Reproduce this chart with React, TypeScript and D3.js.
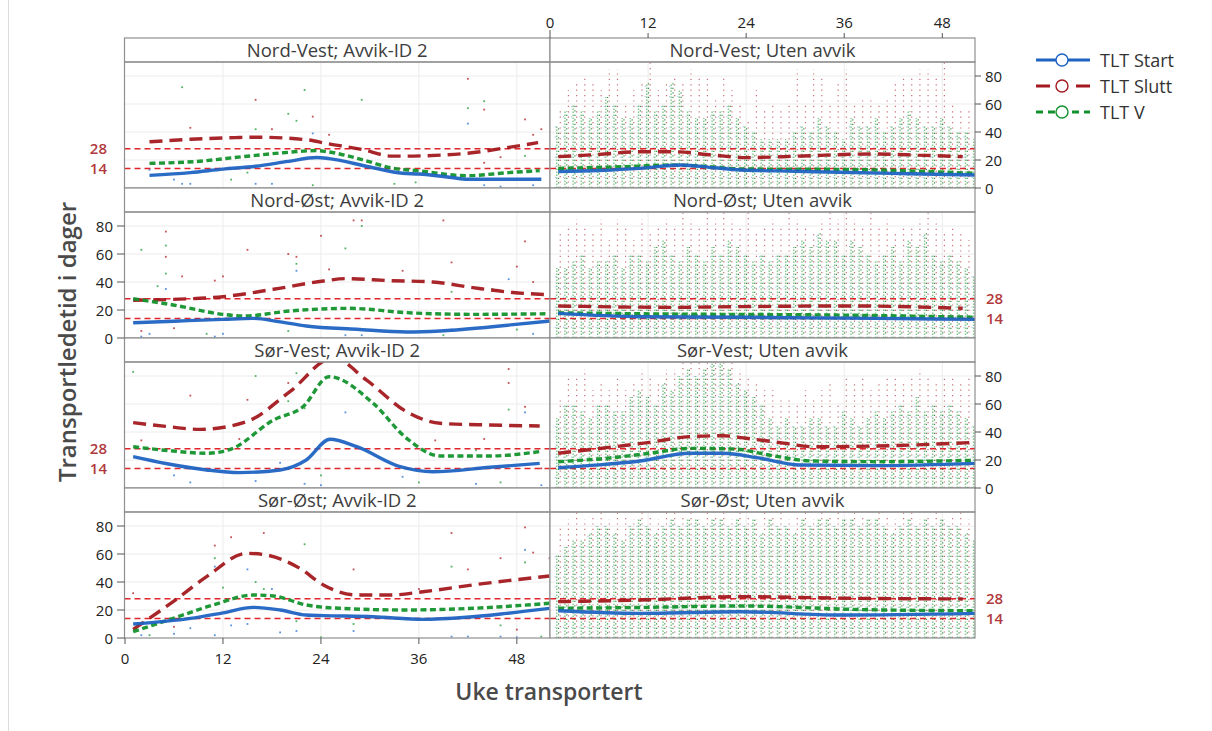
import React from "react";
import * as d3 from "d3";

type Pt = [number, number];

// ---------- categories / labels ----------
const panelTitles: string[][] = [
  ["Nord-Vest; Avvik-ID 2", "Nord-Vest; Uten avvik"],
  ["Nord-Øst; Avvik-ID 2", "Nord-Øst; Uten avvik"],
  ["Sør-Vest; Avvik-ID 2", "Sør-Vest; Uten avvik"],
  ["Sør-Øst; Avvik-ID 2", "Sør-Øst; Uten avvik"],
];
const xTicks = [0, 12, 24, 36, 48];
const yTicks = [0, 20, 40, 60, 80];
const refValues = [14, 28];
const seriesNames = ["TLT Start", "TLT Slutt", "TLT V"];
const weeks = [
  1, 2, 3, 4, 5, 6, 7, 8, 9, 10, 11, 12, 13, 14, 15, 16, 17, 18, 19, 20, 21, 22, 23, 24, 25, 26,
  27, 28, 29, 30, 31, 32, 33, 34, 35, 36, 37, 38, 39, 40, 41, 42, 43, 44, 45, 46, 47, 48, 49, 50,
  51, 52,
];

// ---------- smoothed series (week, days) ----------
const nvAvvikStart: Pt[] = [[3, 9], [8, 11], [12, 13.5], [16, 15.5], [20, 19], [23.5, 21.8], [25, 21], [30, 15], [34, 10.5], [36, 10], [40, 7.5], [42, 6.2], [46, 6.2], [51, 6.2]];
const nvAvvikSlutt: Pt[] = [[3, 33], [8, 34.8], [13.5, 36], [16, 36.3], [22.5, 34.3], [24.5, 32], [29, 27.6], [32.7, 22.8], [34.6, 22.8], [38.7, 23.5], [42, 24.8], [47, 29], [50.6, 32.4]];
const nvAvvikV: Pt[] = [[3, 17.6], [8.4, 18.8], [14.5, 22.4], [19.4, 25.2], [23.5, 26.7], [24.7, 26], [29.2, 20], [32.9, 14], [35.7, 12.4], [41.8, 8.8], [47, 11], [50.8, 12.4]];

const nvUtenStart: Pt[] = [[1, 11.7], [6, 12.5], [11, 14], [16, 16.4], [20, 14.5], [23.3, 12.9], [30, 12], [35.5, 11.2], [44, 10.2], [52, 9.3]];
const nvUtenSlutt: Pt[] = [[1, 22.4], [6, 24], [11, 25.9], [15, 25.9], [20, 23.5], [24, 21.7], [31, 22.9], [39.5, 24.3], [45, 23.5], [50.5, 22.4]];
const nvUtenV: Pt[] = [[1, 14], [8, 15], [15, 16.4], [19, 15.5], [23.3, 13.6], [35.5, 13.3], [45, 12], [52, 10.5]];

const noAvvikStart: Pt[] = [[1, 10.9], [6, 12], [12, 13.3], [15.7, 14], [19, 11.5], [22.2, 8.6], [28.4, 6.2], [34.5, 4.3], [38.6, 5], [44.7, 7.9], [52, 12.1]];
const noAvvikSlutt: Pt[] = [[1, 27], [5.9, 27.6], [12, 29.5], [18.2, 34.8], [24.3, 40.7], [27.1, 42.4], [32.4, 41], [37.7, 40], [42.6, 36], [47.5, 32.5], [51.5, 31]];
const noAvvikV: Pt[] = [[1, 28], [5.9, 23.6], [12, 16.9], [14.5, 15.7], [20.2, 19.3], [27.5, 21.2], [34.5, 18.1], [42.6, 16.9], [51.5, 17.3]];

const noUtenStart: Pt[] = [[1, 17.6], [11, 15.2], [23.3, 14.8], [40, 14], [52, 13.3]];
const noUtenSlutt: Pt[] = [[1, 22.9], [15, 21.9], [23, 22.4], [37, 22.9], [50.5, 21.2]];
const noUtenV: Pt[] = [[1, 18], [15, 17.1], [35, 16.4], [52, 14.8]];

const svAvvikStart: Pt[] = [[1, 22.4], [5, 17.5], [10, 12.9], [14, 11], [19, 12.9], [22.2, 20], [25.1, 34.8], [28.4, 29.5], [33.7, 15.2], [37.7, 11.6], [44.7, 14.8], [50.8, 17.6]];
const svAvvikSlutt: Pt[] = [[1, 46.7], [5, 44], [9.2, 41.9], [14.9, 47.4], [20.2, 68.8], [25.5, 93], [29.6, 77], [34.5, 54.5], [38.6, 46.2], [44.7, 45], [50.8, 44.3]];
const svAvvikV: Pt[] = [[1, 29.5], [5.9, 26.4], [10, 24.8], [12.9, 27.6], [18.2, 48.6], [21.8, 58], [25, 79.5], [30.4, 60.5], [34.5, 35.5], [38.6, 22.9], [44.7, 22.9], [50.8, 26]];

const svUtenStart: Pt[] = [[1, 14.5], [6, 16.5], [11, 19.3], [17.1, 24.8], [21.2, 24.8], [25.3, 21.7], [30.6, 16.4], [40, 16], [52, 17.6]];
const svUtenSlutt: Pt[] = [[1, 24.8], [6.9, 28.8], [12.2, 32.6], [17.1, 36.7], [21.2, 37.3], [24, 35.5], [28.8, 31.9], [32, 29.5], [40, 30], [52, 32.6]];
const svUtenV: Pt[] = [[1, 18.8], [6.9, 21.2], [12.2, 24.8], [17.1, 28.3], [22.4, 27.9], [27.3, 23], [32, 19.3], [40, 18.8], [52, 19.8]];

const soAvvikStart: Pt[] = [[1, 10], [8, 14], [12, 18], [15.7, 21.9], [19, 20], [22.2, 16.4], [24.3, 16], [30.4, 15.2], [36.5, 13.3], [41.8, 14.8], [46.7, 17.6], [52, 21.2]];
const soAvvikSlutt: Pt[] = [[1, 6.2], [5.9, 26], [10, 43.8], [14.9, 60.5], [17.3, 59.3], [21.4, 49.8], [24.3, 37.9], [28.4, 30.7], [32.4, 30.7], [36.5, 33], [42.6, 37.9], [52, 44.3]];
const soAvvikV: Pt[] = [[1, 4.5], [5.9, 14], [10.8, 23.6], [15.7, 30.7], [18.2, 30], [22.2, 23.6], [26.3, 21.2], [34.5, 20], [42.6, 21.2], [52, 24.8]];

const soUtenStart: Pt[] = [[1, 19.5], [11, 17.6], [23.3, 18.8], [35.5, 16.4], [52, 17.6]];
const soUtenSlutt: Pt[] = [[1, 26], [11, 27.1], [23.3, 29.5], [38, 28.3], [50.5, 27.9]];
const soUtenV: Pt[] = [[1, 21.2], [12, 21.9], [23.3, 22.9], [38, 20.3], [52, 19.5]];

// ---------- sparse observations in "Avvik-ID 2" panels: [week, days, series 0=Start 1=Slutt 2=V] ----------
const nvAvvikObs: [number, number, number][] = [
  [7, 72, 2], [16, 63, 1], [22, 70, 2], [29, 63, 2], [42, 78, 1], [42, 57, 2], [42, 46, 0], [44, 62, 2], [44, 56, 1],
  [8, 43, 1], [16, 42, 2], [18, 42, 1], [20, 53, 2], [21, 48, 2], [23, 51, 1], [23, 39, 0], [49, 49, 1], [51, 42, 1],
  [6, 6, 0], [7, 3, 0], [8, 3, 0], [13, 6, 2], [16, 3, 0], [18, 3, 0], [23, 2, 2], [15, 11, 2], [33, 3, 2], [35.6, 4, 2],
  [44, 2, 0], [46, 1, 0], [50, 2, 0], [46, 22, 1], [49, 23, 2], [44, 18, 1], [3, 13, 0], [25, 38, 1], [50, 38, 1],
];
const noAvvikObs: [number, number, number][] = [
  [2, 63, 2], [5, 76, 1], [5, 66, 2], [5, 58, 1], [5, 46, 2], [5, 35, 0], [4, 37, 2], [7, 44, 1], [15, 63, 1], [11, 41, 1],
  [12, 44, 1], [20, 60, 1], [21, 58, 1], [21, 48, 0], [21, 53, 2], [24, 73, 1], [25, 49, 1], [27, 64, 2], [28, 84, 1],
  [29, 80, 2], [29, 84, 1], [34, 48, 1], [39, 84, 1], [40, 54, 1], [48, 51, 1], [49, 69, 1], [47, 42, 0], [50, 40, 1],
  [2, 1, 0], [3, 3, 0], [10, 3, 2], [11, 1, 0], [12, 3, 0], [20, 5, 2], [27, 2, 0], [29, 2, 0], [39, 2, 2], [40, 6, 0],
  [48, 6, 2], [50, 3, 0], [2, 5, 1], [6, 7, 1], [40, 33, 2], [45, 35, 2],
];
const svAvvikObs: [number, number, number][] = [
  [1, 83, 2], [8, 66, 1], [16, 80, 2], [15, 63, 1], [20, 75, 1], [21, 82, 2], [27, 54, 0], [47, 85, 1], [47, 75, 1],
  [47, 56, 2], [49, 58, 1], [49, 54, 0], [14, 35, 1], [14, 31, 2], [44, 35, 1], [38, 34, 1], [43, 27, 2],
  [6, 9, 0], [8, 4, 0], [16, 5, 0], [19, 18, 0], [22, 3, 0], [24, 9, 2], [24, 2, 0], [34, 8, 0], [36, 4, 2], [43, 3, 0],
  [46, 4, 2], [51, 2, 0], [2, 34, 1], [51, 14, 1], [20, 62, 2], [22, 57, 2],
];
const soAvvikObs: [number, number, number][] = [
  [1, 32, 1], [11, 66, 1], [11, 51, 0], [11, 57, 2], [13, 72, 1], [12, 36, 2], [17, 75, 1], [15, 49, 0], [16, 40, 2],
  [17, 35, 2], [18, 35, 0], [22, 67, 2], [28, 49, 1], [40, 75, 1], [40, 51, 2], [42, 49, 1], [46, 57, 1], [49, 79, 1],
  [49, 63, 0], [50, 61, 1], [49, 54, 2], [52, 57, 1], [36, 35, 1],
  [2, 2, 0], [3, 2, 2], [6, 3, 0], [6, 8, 1], [8, 7, 0], [11, 2, 0], [13, 9, 0], [15, 10, 0], [19, 4, 0], [21, 5, 0],
  [21, 12, 2], [24, 0.5, 2], [28, 5, 0], [28, 10, 2], [40, 1, 0], [42, 1, 0], [46, 9, 2], [46, 1, 0], [48, 0.5, 0],
  [48, 6, 1], [51, 1, 2],
];

// ---------- column extents in "Uten avvik" panels (top of dotted observation columns per week) ----------
const nvUtenGreenTop = [45, 55, 60, 55, 50, 55, 65, 60, 50, 50, 60, 75, 55, 60, 75, 70, 55, 50, 50, 55, 55, 60, 50, 45, 40, 35, 35, 35, 35, 40, 45, 40, 50, 45, 40, 35, 50, 45, 45, 50, 40, 45, 50, 55, 50, 45, 45, 50, 45, 40, 40, 35];
const nvUtenRedTop = [55, 70, 75, 80, 75, 70, 85, 85, 60, 70, 75, 90, 70, 75, 80, 75, 85, 80, 80, 65, 80, 70, 60, 50, 70, 55, 60, 55, 60, 85, 60, 85, 80, 60, 75, 85, 60, 65, 65, 60, 65, 75, 80, 80, 85, 85, 80, 90, 60, 55, 55, 50];
const noUtenGreenTop = [50, 50, 55, 60, 50, 55, 55, 60, 50, 60, 60, 55, 65, 70, 60, 55, 65, 60, 55, 65, 60, 70, 65, 60, 55, 60, 55, 60, 60, 65, 70, 65, 75, 70, 70, 60, 70, 65, 60, 55, 60, 65, 55, 70, 65, 75, 60, 55, 60, 55, 50, 45];
const noUtenRedTop = [75, 80, 85, 80, 75, 85, 70, 85, 80, 70, 85, 75, 80, 85, 80, 90, 85, 80, 90, 85, 90, 85, 80, 90, 75, 80, 85, 80, 90, 85, 80, 75, 85, 90, 85, 90, 85, 80, 90, 80, 85, 75, 80, 80, 85, 90, 85, 75, 80, 75, 70, 65];
const svUtenGreenTop = [50, 60, 60, 55, 50, 60, 60, 55, 55, 65, 70, 65, 60, 75, 70, 80, 85, 80, 85, 90, 90, 85, 75, 70, 65, 60, 50, 45, 50, 45, 45, 50, 50, 45, 45, 55, 50, 45, 50, 55, 50, 55, 60, 55, 65, 55, 60, 55, 60, 55, 50, 45];
const svUtenRedTop = [65, 80, 80, 85, 70, 75, 70, 80, 70, 75, 85, 80, 75, 85, 85, 90, 90, 90, 90, 90, 90, 90, 85, 80, 75, 70, 70, 65, 65, 60, 70, 65, 70, 75, 60, 80, 75, 80, 70, 75, 80, 80, 75, 80, 85, 80, 75, 80, 80, 75, 80, 70];
const soUtenGreenTop = [60, 65, 70, 70, 75, 80, 80, 75, 70, 80, 85, 80, 75, 80, 85, 80, 85, 85, 80, 85, 85, 80, 85, 80, 85, 75, 85, 80, 80, 75, 85, 80, 85, 85, 80, 85, 85, 80, 85, 85, 80, 75, 80, 85, 80, 85, 80, 85, 80, 80, 75, 70];
const soUtenRedTop = [80, 85, 90, 85, 88, 90, 85, 90, 88, 85, 90, 88, 85, 90, 90, 88, 90, 85, 90, 88, 90, 85, 90, 88, 85, 90, 88, 90, 85, 88, 90, 85, 90, 88, 90, 85, 90, 88, 85, 90, 88, 85, 90, 90, 85, 88, 90, 85, 88, 90, 85, 80];

// ---------- assemble panels ----------
const curveSets: Pt[][][][] = [
  [[nvAvvikStart, nvAvvikSlutt, nvAvvikV], [nvUtenStart, nvUtenSlutt, nvUtenV]],
  [[noAvvikStart, noAvvikSlutt, noAvvikV], [noUtenStart, noUtenSlutt, noUtenV]],
  [[svAvvikStart, svAvvikSlutt, svAvvikV], [svUtenStart, svUtenSlutt, svUtenV]],
  [[soAvvikStart, soAvvikSlutt, soAvvikV], [soUtenStart, soUtenSlutt, soUtenV]],
];
const sparseObs = [nvAvvikObs, noAvvikObs, svAvvikObs, soAvvikObs];
const columnTops = [
  [nvUtenGreenTop, nvUtenRedTop],
  [noUtenGreenTop, noUtenRedTop],
  [svUtenGreenTop, svUtenRedTop],
  [soUtenGreenTop, soUtenRedTop],
];

// ---------- styles ----------
const FONT = "'Open Sans', 'Noto Sans', sans-serif";
const lineColors = ["#1f63c2", "#a3191f", "#13922c"];
const dotColors = ["#2f78d6", "#b5272c", "#25a03a"];
const dashes = [undefined, "13 7", "6 3.5"];
const refColor = "#e0252b";
const labelRed = "#b13a3e";
const borderColor = "#8f8f8f";
const gridColor = "#ececec";

const W = 1212;
const H = 731;
const colX0 = [124.5, 550];
const colX1 = [550, 975];
const stripH = 24;
const rowH = 150;
const top0 = 38;

export default function App() {
  const xScales = [
    d3.scaleLinear().domain([0, 52]).range([125, 549.5]),
    d3.scaleLinear().domain([0, 52]).range([550, 975]),
  ];
  const yScaleFor = (r: number) =>
    d3.scaleLinear().domain([0, 90]).range([top0 + rowH * r + rowH, top0 + rowH * r + stripH]);

  const panels: React.ReactNode[] = [];
  for (let r = 0; r < 4; r++) {
    const y = yScaleFor(r);
    const rowTop = top0 + rowH * r;
    const plotTop = rowTop + stripH;
    const plotBot = rowTop + rowH;
    for (let c = 0; c < 2; c++) {
      const x = xScales[c];
      const x0 = colX0[c];
      const x1 = colX1[c];
      const clipId = `clip-${r}-${c}`;
      const line = d3
        .line<Pt>()
        .x((d) => x(d[0]))
        .y((d) => y(d[1]))
        .curve(d3.curveMonotoneX);
      panels.push(
        <g key={`p-${r}-${c}`}>
          <defs>
            <clipPath id={clipId}>
              <rect x={x0} y={plotTop} width={x1 - x0} height={plotBot - plotTop} />
            </clipPath>
          </defs>
          <rect x={x0} y={plotTop} width={x1 - x0} height={plotBot - plotTop} fill="#fff" />
          {/* grid */}
          {xTicks.filter((t) => t > 0).map((t) => (
            <line key={`gx${t}`} x1={x(t)} x2={x(t)} y1={plotTop} y2={plotBot} stroke={gridColor} strokeWidth={1} />
          ))}
          {yTicks.filter((t) => t > 0).map((t) => (
            <line key={`gy${t}`} x1={x0} x2={x1} y1={y(t)} y2={y(t)} stroke={gridColor} strokeWidth={1} />
          ))}
          <g clipPath={`url(#${clipId})`}>
            {/* observations */}
            {c === 0 &&
              sparseObs[r].map((o, i) => (
                <rect
                  key={`o${i}`}
                  x={x(o[0]) - 0.9}
                  y={y(o[1]) - 0.9}
                  width={1.8}
                  height={1.8}
                  fill={dotColors[o[2]]}
                  opacity={0.8}
                />
              ))}
            {c === 1 &&
              weeks.map((w, i) => (
                <g key={`col${w}`}>
                  <line x1={x(w) - 1.4} x2={x(w) - 1.4} y1={y(0)} y2={y(columnTops[r][0][i])} stroke="#62b86f" strokeWidth={1.4} strokeDasharray="1.4 1.6" opacity={0.8} />
                  <line x1={x(w) + 0.4} x2={x(w) + 0.4} y1={y(0)} y2={y(columnTops[r][0][i])} stroke="#177f2a" strokeWidth={1.2} strokeDasharray="1.3 3.2" opacity={0.85} />
                  <line x1={x(w) + 2.1} x2={x(w) + 2.1} y1={y(0)} y2={y(columnTops[r][1][i])} stroke="#b3333a" strokeWidth={1.2} strokeDasharray="1.2 4.2" opacity={0.7} />
                  <line x1={x(w) - 2.9} x2={x(w) - 2.9} y1={y(0)} y2={y(columnTops[r][0][i])} stroke="#4a8ad8" strokeWidth={1} strokeDasharray="1.1 9" opacity={0.55} />
                </g>
              ))}
            {/* reference lines */}
            {refValues.map((v) => (
              <line key={`ref${v}`} x1={x0} x2={x1} y1={y(v)} y2={y(v)} stroke={refColor} strokeWidth={1.5} strokeDasharray="6 4" />
            ))}
            {/* smoothed series */}
            {[1, 2, 0].map((s) => (
              <path
                key={`s${s}`}
                d={line(curveSets[r][c][s]) || ""}
                fill="none"
                stroke={lineColors[s]}
                strokeWidth={3.4}
                strokeDasharray={dashes[s]}
                strokeLinecap="butt"
                opacity={0.95}
              />
            ))}
          </g>
          {/* strip */}
          <rect x={x0} y={rowTop} width={x1 - x0} height={stripH} fill="#fff" stroke={borderColor} strokeWidth={1.2} />
          <text x={(x0 + x1) / 2} y={rowTop + 18.5} textAnchor="middle" fontFamily={FONT} fontSize={18.5} fill="#3d3d3d">
            {panelTitles[r][c]}
          </text>
          <rect x={x0} y={plotTop} width={x1 - x0} height={plotBot - plotTop} fill="none" stroke={borderColor} strokeWidth={1.2} />
        </g>
      );
    }
  }

  // axes
  const axes: React.ReactNode[] = [];
  for (let r = 0; r < 4; r++) {
    const y = yScaleFor(r);
    const numericLeft = r % 2 === 1;
    // left side
    if (numericLeft) {
      yTicks.forEach((t) =>
        axes.push(
          <g key={`ly${r}-${t}`}>
            <line x1={117} x2={124.5} y1={y(t)} y2={y(t)} stroke="#555" strokeWidth={1} />
            <text x={113} y={y(t) + 5.5} textAnchor="end" fontFamily={FONT} fontSize={15} fill="#222">
              {t}
            </text>
          </g>
        )
      );
    } else {
      refValues.map((v) =>
        axes.push(
          <text key={`lr${r}-${v}`} x={107} y={y(v) + 5.5} textAnchor="end" fontFamily={FONT} fontSize={15} fontWeight={600} fill={labelRed}>
            {v}
          </text>
        )
      );
    }
    // right side
    if (!numericLeft) {
      yTicks.forEach((t) =>
        axes.push(
          <g key={`ry${r}-${t}`}>
            <line x1={975} x2={981} y1={y(t)} y2={y(t)} stroke="#555" strokeWidth={1} />
            <text x={985} y={y(t) + 5.5} textAnchor="start" fontFamily={FONT} fontSize={15} fill="#222">
              {t}
            </text>
          </g>
        )
      );
    } else {
      refValues.map((v) =>
        axes.push(
          <text key={`rr${r}-${v}`} x={986} y={y(v) + 5.5} textAnchor="start" fontFamily={FONT} fontSize={15} fontWeight={600} fill={labelRed}>
            {v}
          </text>
        )
      );
    }
  }
  // top axis (right column)
  xTicks.forEach((t) =>
    axes.push(
      <g key={`tx${t}`}>
        <line x1={xScales[1](t)} x2={xScales[1](t)} y1={t === 0 ? 30 : 33} y2={38} stroke="#555" strokeWidth={1} />
        <text x={xScales[1](t)} y={28} textAnchor="middle" fontFamily={FONT} fontSize={15} fill="#222">
          {t}
        </text>
      </g>
    )
  );
  // bottom axis (left column)
  xTicks.forEach((t) =>
    axes.push(
      <g key={`bx${t}`}>
        <line x1={xScales[0](t)} x2={xScales[0](t)} y1={638} y2={644} stroke="#555" strokeWidth={1} />
        <text x={xScales[0](t)} y={664} textAnchor="middle" fontFamily={FONT} fontSize={15} fill="#222">
          {t}
        </text>
      </g>
    )
  );

  // legend
  const legendY = [60, 86, 112];
  const legend = seriesNames.map((name, i) => (
    <g key={`lg${i}`}>
      <line x1={1036} x2={1090} y1={legendY[i]} y2={legendY[i]} stroke={lineColors[i]} strokeWidth={3}
        strokeDasharray={i === 0 ? undefined : i === 1 ? "14 26" : "7 5"} />
      <circle cx={1062} cy={legendY[i]} r={6} fill="#fff" stroke={lineColors[i]} strokeWidth={1.4} />
      <text x={1100} y={legendY[i] + 6.5} fontFamily={FONT} fontSize={18} fill="#333">
        {name}
      </text>
    </g>
  ));

  return (
    <svg width={W} height={H} style={{ position: "absolute", left: 0, top: 0, background: "#fff" }}>
      <rect x={0} y={0} width={W} height={H} fill="#fff" />
      <line x1={8.5} x2={8.5} y1={0} y2={H} stroke="#dcdcdc" strokeWidth={1} />
      {panels}
      {axes}
      {legend}
      <text
        transform={`translate(76, 342) rotate(-90)`}
        textAnchor="middle"
        fontFamily={FONT}
        fontSize={24}
        fontWeight={600}
        fill="#4a4a4a"
      >
        Transportledetid i dager
      </text>
      <text x={549} y={700} textAnchor="middle" fontFamily={FONT} fontSize={23} fontWeight={600} fill="#4a4a4a">
        Uke transportert
      </text>
    </svg>
  );
}
